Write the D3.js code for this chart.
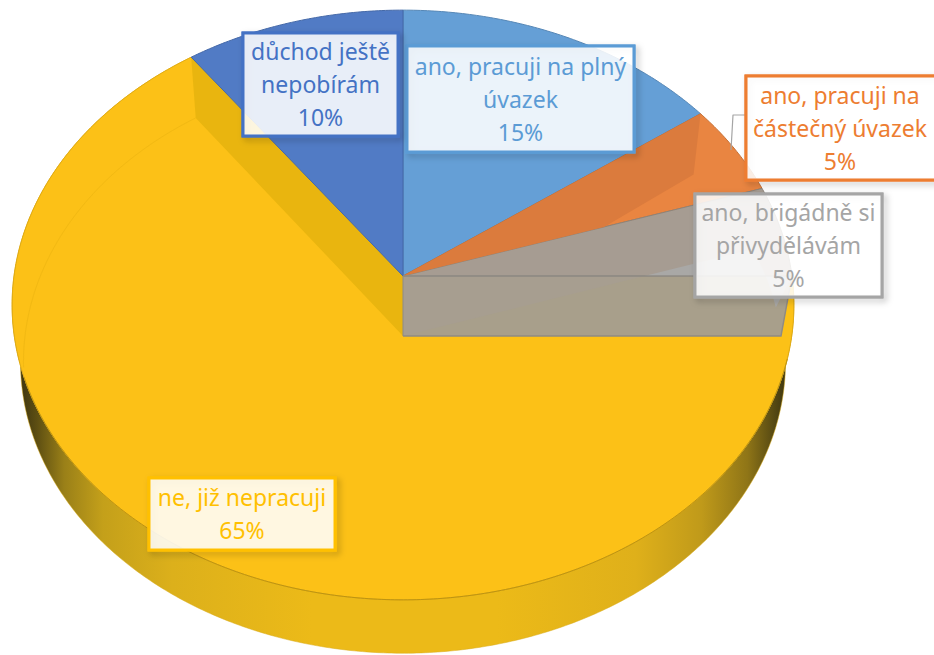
<!DOCTYPE html>
<html lang="cs">
<head>
<meta charset="utf-8">
<script src="https://cdn.jsdelivr.net/npm/d3@7"></script>
<style>
html,body{margin:0;padding:0;background:#fff;overflow:hidden}
svg{display:block}
text{font-family:"Noto Sans","Open Sans",sans-serif;font-size:23px;text-anchor:middle}
</style>
</head>
<body>
<svg id="chart" width="934" height="655"></svg>
<script>
// Data, clockwise from 12 o'clock
const categories = ["ano, pracuji na plný úvazek","ano, pracuji na částečný úvazek","ano, brigádně si přivydělávám","ne, již nepracuji","důchod ještě nepobírám"];
const values = [15, 5, 5, 65, 10];
const labelLines = [["ano, pracuji na plný","úvazek"],["ano, pracuji na","částečný úvazek"],["ano, brigádně si","přivydělávám"],["ne, již nepracuji"],["důchod ještě","nepobírám"]];

// Styles and layout
const sliceColors = ["#659FD6","#E98541","#A69C92","#FCC117","#517BC5"];
const labelColors = ["#5B9BD5","#ED7D31","#A5A5A5","#FFC000","#4472C4"];
const labelBoxes  = [[407,46,227,106],[746,76,200,104],[695,194,187,103],[149,478,186,72],[243,33,155,103]];

const svg = d3.select("#chart");
const defs = svg.append("defs");
const shadow = defs.append("filter").attr("id","shadow").attr("x","-10%").attr("y","-10%").attr("width","125%").attr("height","130%");
shadow.append("feDropShadow").attr("dx",3).attr("dy",3).attr("stdDeviation",3).attr("flood-color","#000").attr("flood-opacity",0.28);
const wallGrad = defs.append("linearGradient").attr("id","wall").attr("gradientUnits","userSpaceOnUse").attr("x1",18).attr("x2",790).attr("y1",0).attr("y2",0);
[[0,"#3a3210"],[0.025,"#5e4f12"],[0.06,"#9a8018"],[0.11,"#c4a01a"],[0.2,"#dcb01b"],[0.38,"#ecba18"],[0.62,"#ecba18"],[0.8,"#dfb01a"],[0.885,"#c09a1a"],[0.945,"#8f7517"],[0.985,"#4d4212"],[1,"#3a3210"]]
  .forEach(([o,c])=>wallGrad.append("stop").attr("offset",o).attr("stop-color",c));

// Perspective projection of the pie planes
const topPlane  = {cx:403, cy:276, a:389, b:292, k:0.0983};
const basePlane = {cx:403, cy:336, a:378, b:289, k:0.089};
const wallPlane = {cx:403, cy:336, a:381, b:289, k:0.089};
const project = (pl, t) => {
  const w = 1 + pl.k * Math.cos(t);
  return [pl.cx + pl.a * Math.sin(t) / w, pl.cy - pl.b * Math.cos(t) / w];
};
const arcPts = (pl, t0, t1) => {
  const n = Math.max(2, Math.ceil(Math.abs(t1 - t0) / 0.01));
  return d3.range(n + 1).map(i => project(pl, t0 + (t1 - t0) * i / n));
};
const line = d3.line();
const apex = pl => [pl.cx, pl.cy];
const pie = d3.pie().sort(null).value(d => d)(values);
const [sBlue, sOrange, sGray, sYellow, sNavy] = pie;

const g = svg.append("g");
const shape = (pts, fill, stroke, sw, close = true, op = 1) =>
  g.append("path").attr("d", line(pts) + (close ? "Z" : ""))
    .attr("fill", fill).attr("fill-opacity", op)
    .attr("stroke", stroke || "none").attr("stroke-width", sw || 0).attr("stroke-linejoin","round");

// Outer side wall of the large slice
shape([...arcPts(wallPlane, sYellow.startAngle, sYellow.endAngle),
       ...arcPts(topPlane, sYellow.endAngle, sYellow.startAngle)], "url(#wall)", "#d9ab18", 0.5);
// Top surface of the large slice
shape([apex(topPlane), ...arcPts(topPlane, sYellow.startAngle, sYellow.endAngle)], sliceColors[3], "#e3ad14", 1);
// Front rim
shape(arcPts(topPlane, sYellow.startAngle + 0.28, sYellow.startAngle + 2.8), "none", "#bd9412", 1, false);
// Base edge seen through the slice
shape(arcPts(basePlane, sYellow.endAngle, sYellow.endAngle - 1.05), "none", "#f2b913", 1, false);
// Cut walls
shape([apex(topPlane), project(topPlane, sYellow.endAngle), project(basePlane, sYellow.endAngle), apex(basePlane)], "#E9B50F");
const gTop = project(topPlane, sYellow.startAngle), gBase = project(basePlane, sYellow.startAngle);
shape([apex(topPlane), gTop, gBase, apex(basePlane)], "#A79E90");
// Base edge of the gray slice crosses the wall
const gFar = project(basePlane, sGray.startAngle);
const cross = [403 + (gFar[0] - 403) * (336 - 276) / (336 - gFar[1]), 276];
shape([apex(basePlane), cross, gTop, gBase], "#A89F8B");

// Remaining slices
[[sBlue,0],[sOrange,1],[sGray,2],[sNavy,4]].forEach(([s,i]) => {
  const stroke = d3.color(sliceColors[i]).darker(0.45).formatHex();
  shape([apex(topPlane), ...arcPts(topPlane, s.startAngle, s.endAngle)], sliceColors[i], stroke, 1);
});
// Darker inner face of the orange slice
const oBase = project(basePlane, sOrange.startAngle), oEnd = project(topPlane, sOrange.endAngle);
shape([apex(topPlane), project(topPlane, sOrange.startAngle), oBase,
       [403 + (oEnd[0] - 403) * 0.56, 276 + (oEnd[1] - 276) * 0.56]], "#DB7B3D");
// Lighter base face on the far end of the gray slice
shape([cross, gFar, ...arcPts(basePlane, sGray.startAngle, sGray.endAngle - 0.1), gTop], "#A9A8A6");
// Wall outline
shape([apex(topPlane), gTop], "none", "#8f8b84", 1.4, false);
shape([gTop, gBase, apex(basePlane)], "none", "#8f8b84", 1.4, false);
shape([apex(topPlane), apex(basePlane)], "none", "#8f8b84", 1, false);

// Leader line
const boxOrange = labelBoxes[1];
shape([[boxOrange[0], 115], [733, 115], [731, 150]], "none", "#A5A5A5", 1.2, false);

// Labels
const labels = svg.append("g").selectAll("g").data(pie).join("g");
labels.append("rect")
  .attr("x", (d,i) => labelBoxes[i][0]).attr("y", (d,i) => labelBoxes[i][1])
  .attr("width", (d,i) => labelBoxes[i][2]).attr("height", (d,i) => labelBoxes[i][3])
  .attr("fill", "none").attr("stroke", (d,i) => labelColors[i]).attr("stroke-width", 3)
  .attr("filter", "url(#shadow)");
labels.append("rect")
  .attr("x", (d,i) => labelBoxes[i][0]).attr("y", (d,i) => labelBoxes[i][1])
  .attr("width", (d,i) => labelBoxes[i][2]).attr("height", (d,i) => labelBoxes[i][3])
  .attr("fill", "#fff").attr("fill-opacity", 0.87).attr("stroke", (d,i) => labelColors[i]).attr("stroke-width", 3);
labels.each(function(d,i){
  const [x,y,w,h] = labelBoxes[i];
  const rows = [...labelLines[i], `${d.value}%`];
  const lh = 33;
  const cx = i === 1 ? 840 : x + w / 2;
  d3.select(this).selectAll("text").data(rows).join("text")
    .attr("x", cx)
    .attr("y", (r,j) => y + h / 2 - (rows.length - 1) * lh / 2 + j * lh + 8.5)
    .attr("fill", labelColors[i])
    .text(r => r);
});
</script>
</body>
</html>
